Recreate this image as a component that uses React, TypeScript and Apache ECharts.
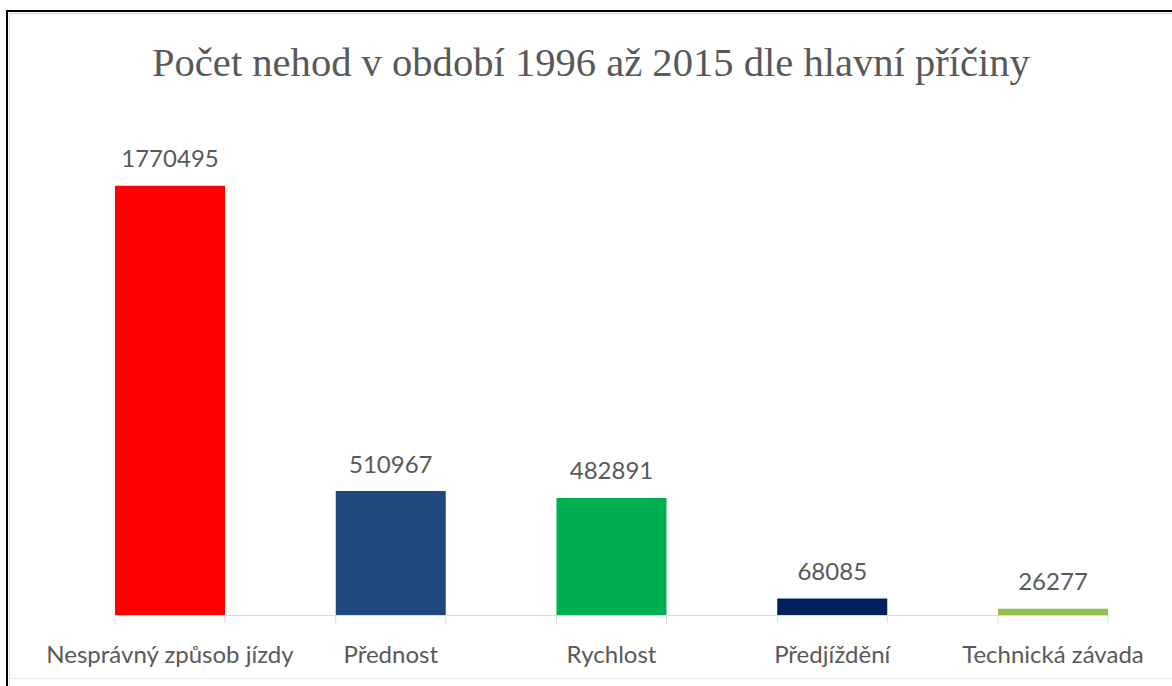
import React, { useEffect, useRef } from "react";
import * as echarts from "echarts";

const categories = ["Nesprávný způsob jízdy", "Přednost", "Rychlost", "Předjíždění", "Technická závada"];
const values = [1770495, 510967, 482891, 68085, 26277];
const colors = ["#FF0000", "#1F497D", "#00B050", "#002060", "#92C04C"];
const titleText = "Počet nehod v období 1996 až 2015 dle hlavní příčiny";

const BAR_W = 110;
const TEXT = "#595959";
const LABEL_FONT = "Lato, 'Open Sans', sans-serif";

export default function App() {
  const ref = useRef<HTMLDivElement>(null);
  useEffect(() => {
    if (!ref.current) return;
    const chart = echarts.init(ref.current, undefined, { renderer: "svg" });
    const gridTop = 130;
    const gridBottom = 71;
    chart.setOption({
      animation: false,
      backgroundColor: "#ffffff",
      title: {
        text: titleText,
        left: 147,
        top: 37,
        textStyle: {
          fontFamily: "'Liberation Serif', 'Times New Roman', serif",
          fontSize: 40.6,
          fontWeight: "normal",
          color: TEXT,
        },
      },
      grid: [
        { left: 115, right: 63, top: gridTop, bottom: gridBottom },
        { left: 170, right: 119, top: gridTop, bottom: gridBottom },
      ],
      xAxis: [
        {
          gridIndex: 0,
          type: "value",
          min: -0.25,
          max: 4.25,
          axisLine: { show: true, lineStyle: { color: "#D9D9D9", width: 1 } },
          axisTick: { show: false },
          axisLabel: { show: false },
          splitLine: { show: false },
        },
        {
          gridIndex: 1,
          type: "category",
          data: categories,
          boundaryGap: false,
          axisLine: { show: false },
          axisTick: { show: false },
          axisLabel: {
            show: true,
            interval: 0,
            margin: 26,
            fontSize: 24,
            fontFamily: LABEL_FONT,
            color: TEXT,
          },
        },
      ],
      yAxis: [
        { gridIndex: 0, type: "value", min: 0, max: 2000000, show: false },
        { gridIndex: 1, type: "value", min: 0, max: 2000000, show: false },
      ],
      series: [
        {
          type: "bar",
          xAxisIndex: 1,
          yAxisIndex: 1,
          barWidth: BAR_W,
          data: values.map((v, i) => ({ value: v, itemStyle: { color: colors[i] } })),
          label: {
            show: true,
            position: "top",
            distance: 16,
            fontSize: 24,
            fontFamily: LABEL_FONT,
            color: TEXT,
          },
          z: 3,
        },
        {
          type: "custom",
          xAxisIndex: 1,
          yAxisIndex: 1,
          data: categories.map((_, i) => [i, 0]),
          renderItem: (params: any, api: any) => {
            const p = api.coord([api.value(0), 0]);
            const st = { stroke: "#D9D9D9", lineWidth: 1 };
            return {
              type: "group",
              children: [
                { type: "line", shape: { x1: p[0] - BAR_W / 2, y1: p[1], x2: p[0] - BAR_W / 2, y2: p[1] + 8 }, style: st },
                { type: "line", shape: { x1: p[0] + BAR_W / 2, y1: p[1], x2: p[0] + BAR_W / 2, y2: p[1] + 8 }, style: st },
              ],
            };
          },
          z: 2,
        },
      ],
      graphic: [
        { type: "line", shape: { x1: 6, y1: 11, x2: 1172, y2: 11 }, style: { stroke: "#000000", lineWidth: 2 } },
        { type: "line", shape: { x1: 7, y1: 10, x2: 7, y2: 686 }, style: { stroke: "#000000", lineWidth: 2 } },
        { type: "line", shape: { x1: 9, y1: 13.5, x2: 1172, y2: 13.5 }, style: { stroke: "#E0E0E0", lineWidth: 2 } },
        { type: "line", shape: { x1: 9.5, y1: 13, x2: 9.5, y2: 686 }, style: { stroke: "#E0E0E0", lineWidth: 1 } },
        { type: "line", shape: { x1: 10, y1: 678.5, x2: 1172, y2: 678.5 }, style: { stroke: "#EBEBEB", lineWidth: 1 } },
      ],
    });
    return () => chart.dispose();
  }, []);
  return (
    <div
      ref={ref}
      style={{ position: "absolute", left: 0, top: 0, width: 1172, height: 686 }}
    />
  );
}
